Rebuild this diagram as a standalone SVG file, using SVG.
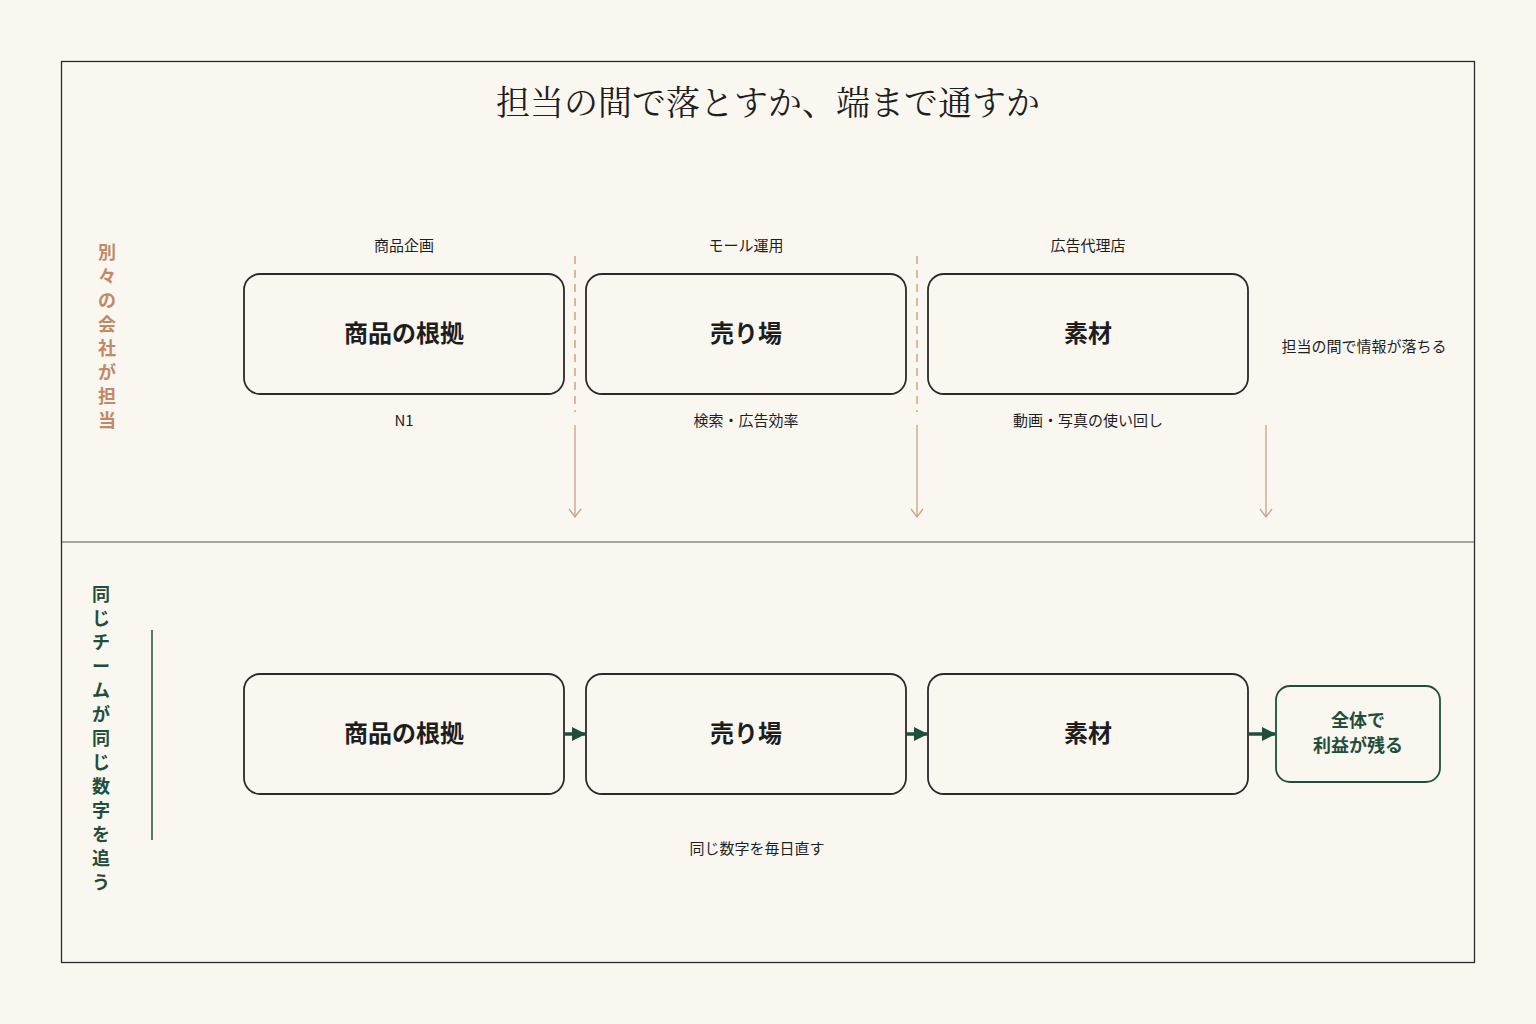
<svg xmlns="http://www.w3.org/2000/svg" width="1536" height="1024" viewBox="0 0 1536 1024">
<style>
text{font-family:"Noto Sans CJK JP","Noto Sans",sans-serif;fill:#1e1e1e}
.box{fill:#faf7f1;stroke:#2a2a2a;stroke-width:1.8}
.big{font-size:24px;font-weight:700;text-anchor:middle}
.sm{font-size:15px;text-anchor:middle}
.org{fill:#c08a66;font-size:18px;font-weight:700;text-anchor:middle}
.grn{fill:#1f4f3c;font-size:18px;font-weight:700;text-anchor:middle}
.dash{stroke:#d2a285;stroke-width:1.5;stroke-dasharray:8,6;fill:none}
.arr{stroke:#c9a189;stroke-width:1.3;fill:none}
.garr{stroke:#1f4f3c;stroke-width:3.5;fill:none}
</style>
<defs>
<marker id="v" markerWidth="12" markerHeight="14" refX="9" refY="7" orient="auto" markerUnits="userSpaceOnUse" viewBox="0 0 12 14"><path d="M1,1 L9,7 L1,13" fill="none" stroke="#c9a189" stroke-width="1.3"/></marker>
<marker id="g" markerWidth="14" markerHeight="14" refX="13" refY="7" orient="auto" markerUnits="userSpaceOnUse" viewBox="0 0 14 14"><path d="M0,0 L14,7 L0,14 Z" fill="#1f4f3c"/></marker>
</defs>
<rect width="1536" height="1024" fill="#faf7f1"/>
<rect x="61.500" y="61.500" width="1413" height="901" fill="none" stroke="#2a2a2a" stroke-width="1.3"/>
<line x1="62" y1="542" x2="1474" y2="542" stroke="#8a8680" stroke-width="1.3"/>
<text x="768" y="115" font-size="34" text-anchor="middle" style="font-family:'Noto Serif CJK JP','Liberation Serif',serif">担当の間で落とすか、端まで通すか</text>
<g id="lane1-label">
<text class="org"><tspan x="107" y="259">別</tspan><tspan x="107" y="283">々</tspan><tspan x="107" y="307">の</tspan><tspan x="107" y="331">会</tspan><tspan x="107" y="355">社</tspan><tspan x="107" y="379">が</tspan><tspan x="107" y="403">担</tspan><tspan x="107" y="427">当</tspan></text>
</g>
<g id="lane2-label">
<text class="grn"><tspan x="101" y="601">同</tspan><tspan x="101" y="625">じ</tspan><tspan x="101" y="649">チ</tspan><tspan x="101" y="673">ー</tspan><tspan x="101" y="697">ム</tspan><tspan x="101" y="721">が</tspan><tspan x="101" y="745">同</tspan><tspan x="101" y="769">じ</tspan><tspan x="101" y="793">数</tspan><tspan x="101" y="817">字</tspan><tspan x="101" y="841">を</tspan><tspan x="101" y="865">追</tspan><tspan x="101" y="889">う</tspan></text>
<line x1="152" y1="630" x2="152" y2="840" stroke="#1f4f3c" stroke-width="1.5"/>
</g>
<g id="top-nodes">
<text class="sm" x="404" y="251">商品企画</text>
<text class="sm" x="746" y="251">モール運用</text>
<text class="sm" x="1088" y="251">広告代理店</text>
<g id="t1"><rect class="box" x="244" y="274" width="320" height="120" rx="16"/><text class="big" x="404" y="342">商品の根拠</text></g>
<g id="t2"><rect class="box" x="586" y="274" width="320" height="120" rx="16"/><text class="big" x="746" y="342">売り場</text></g>
<g id="t3"><rect class="box" x="928" y="274" width="320" height="120" rx="16"/><text class="big" x="1088" y="342">素材</text></g>
<text class="sm" x="404" y="426">N1</text>
<text class="sm" x="746" y="426">検索・広告効率</text>
<text class="sm" x="1088" y="426">動画・写真の使い回し</text>
<text class="sm" x="1364" y="352">担当の間で情報が落ちる</text>
</g>
<g id="bottom-nodes">
<g id="b1"><rect class="box" x="244" y="674" width="320" height="120" rx="16"/><text class="big" x="404" y="742">商品の根拠</text></g>
<g id="b2"><rect class="box" x="586" y="674" width="320" height="120" rx="16"/><text class="big" x="746" y="742">売り場</text></g>
<g id="b3"><rect class="box" x="928" y="674" width="320" height="120" rx="16"/><text class="big" x="1088" y="742">素材</text></g>
<g id="b4"><rect x="1276" y="686" width="164" height="96" rx="14" fill="#faf7f1" stroke="#1f4f3c" stroke-width="1.8"/><text class="grn"><tspan x="1358" y="727">全体で</tspan><tspan x="1358" y="752">利益が残る</tspan></text></g>
<text class="sm" x="757" y="854">同じ数字を毎日直す</text>
</g>
<g id="connectors">
<line class="dash" x1="575" y1="256" x2="575" y2="412"/>
<line class="dash" x1="917" y1="256" x2="917" y2="412"/>
<line class="arr" x1="575" y1="425" x2="575" y2="517" marker-end="url(#v)"/>
<line class="arr" x1="917" y1="425" x2="917" y2="517" marker-end="url(#v)"/>
<line class="arr" x1="1266" y1="425" x2="1266" y2="517" marker-end="url(#v)"/>
<line class="garr" x1="565" y1="734" x2="585" y2="734" marker-end="url(#g)"/>
<line class="garr" x1="907" y1="734" x2="927" y2="734" marker-end="url(#g)"/>
<line class="garr" x1="1249" y1="734" x2="1275" y2="734" marker-end="url(#g)"/>
</g>
</svg>
